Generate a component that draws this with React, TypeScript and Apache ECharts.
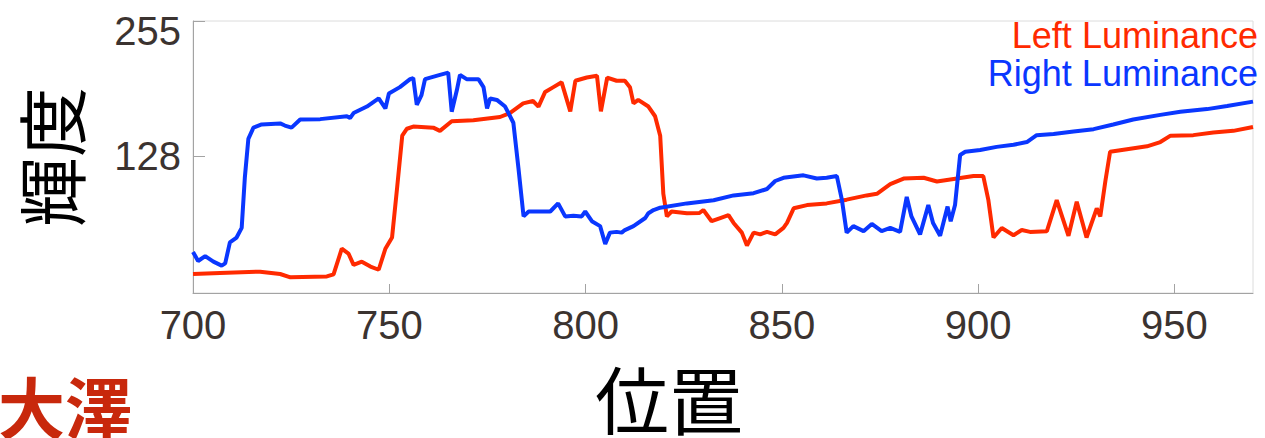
import React, { useEffect, useRef } from "react";
import * as echarts from "echarts";

// Luminance profiles sampled along the scan line (position → 0-255 luminance)
const leftPos = [
  700, 706.9, 717.1, 722.2, 724.8, 734.1, 735.8, 737.9, 739.6, 740.9, 743, 745.2, 747.3, 749, 750.7, 752,
  753.3, 754.5, 756.1, 761.2, 762.9, 765.9, 771.4, 778.2, 780.7, 784.1, 786.6, 788, 789.7, 791.8, 793.9,
  796.1, 797.4, 800.3, 802.9, 803.9, 805.5, 807.9, 810, 811.3, 812.2, 813.4, 816, 817.7, 819, 819.8, 820.7,
  821.9, 825.8, 829, 830, 832.1, 834.3, 836.4, 837.7, 839.8, 841.1, 842.8, 844.5, 846.2, 848.3, 850.4,
  851.3, 853, 856.4, 861.4, 866.5, 871.6, 874.2, 877.6, 881, 886.1, 889.5, 894.6, 898.8, 901.3, 902.6,
  903.9, 906, 909, 911.1, 913.2, 917.5, 920, 923, 925.1, 927.6, 930.2, 931.1, 932.4, 933.6, 937.9, 943,
  946.4, 949, 954.8, 959.9, 965, 970,
];
const leftLum = [
  17.8, 18.8, 20, 17.8, 14.7, 15.5, 17.5, 41.5, 37, 26.4, 29.4, 24.8, 21.8, 41.5, 52, 99,
  147.5, 154, 156, 155, 152, 161, 162, 165, 168.7, 177.8, 180, 174.8, 188.5, 193, 197.5,
  170.3, 199, 202, 203.6, 170.3, 202, 199, 199, 193, 177.8, 181, 174.8, 165.7, 147.5, 93, 71.8,
  76.4, 74.8, 75, 77.8, 67.3, 70.3, 73, 65.7, 56.6, 44.5, 56.6, 55, 57.3, 55, 61,
  65.7, 79.4, 82.4, 84, 87.5, 91.5, 93, 102, 107.3, 108, 104.5, 107.3, 109.6, 109.6, 87,
  52, 61, 54.2, 59, 57.3, 58, 87, 53.6, 85.5, 52, 79.4, 71.8, 105, 132.4, 134.8, 137.5,
  141.5, 147.5, 148, 150.5, 152, 155.7,
];

const rightPos = [
  700, 701.3, 703.1, 705.2, 707.3, 708.2, 709.4, 711.1, 712.4, 713.2, 714.1, 715.4, 717.5, 722.2, 723.4,
  725.1, 727.3, 732.4, 739.2, 740, 740.9, 744.3, 747.3, 749, 749.9, 752.7, 755.3, 756.1, 757, 758.2,
  759.1, 762.9, 765, 765.9, 767.2, 768, 769.7, 772.7, 774, 774.9, 775.7, 777.4, 779.5, 781.6, 782.9,
  784.2, 785.5, 788, 791, 793, 794.8, 796.9, 799, 799.9, 801.6, 803.7, 805, 806.2, 807.9, 809.2, 810,
  812.2, 815.2, 816, 817.3, 819, 825.8, 832.6, 837.7, 842.8, 846.2, 848.3, 850.4, 855.5, 858.9, 861.4,
  864, 865.3, 866.5, 868.2, 870.8, 872.9, 875.4, 877.6, 880.1, 881.8, 883, 885.2, 887.3, 888.5, 890.3,
  892.2, 893, 894.1, 895.4, 896.7, 900.5, 904.7, 909, 912.4, 914.9, 919.2, 924.3, 929.4, 934.4, 939.5,
  946.4, 951.5, 958.3, 963.4, 970,
];
const rightLum = [
  38.5, 30, 34.5, 29.4, 25.7, 27.8, 47.5, 52, 61, 108, 144.5, 155, 158, 159, 157,
  155, 162.7, 163, 165.7, 164, 168.7, 174.8, 182.4, 173, 187, 193, 200.5, 201.5, 176.4, 185.5,
  200.5, 204.5, 206.6, 170, 190, 204.5, 200.5, 200.5, 193, 173, 182.4, 181, 174.8, 159.6, 117,
  71.8, 76.4, 76.4, 76.4, 84, 71.8, 72.4, 71.8, 76.4, 67.3, 62.7, 46, 56.6, 57.3, 56.6, 59,
  62.7, 70.3, 74.8, 77.8, 80, 84, 87, 91.5, 93.6, 97.5, 105, 108, 110.3, 107.3, 108,
  109.6, 87, 56.6, 62.7, 58, 64.8, 58, 61, 57.3, 90, 71.8, 55, 82.4, 65.7, 53.6,
  81, 67.3, 82.4, 129.4, 132.4, 134, 137, 139, 141.5, 148, 149, 151.5, 153.6, 158, 162.7,
  167, 170, 172.4, 175.4, 179.4,
];

const xTicks = [700, 750, 800, 850, 900, 950];
const yTicks = [128, 255];
const seriesNames = ["Left Luminance", "Right Luminance"];

const RED = "#ff2a00";
const BLUE = "#0a37ff";
const TICK_TEXT = "#3b3330";
const AXIS_GRAY = "#a3a3a3";
const LATIN = "'Liberation Sans', Arial, sans-serif";
const CJK = "'Noto Sans CJK JP', 'Noto Sans CJK SC', sans-serif";

const pairs = (xs: number[], ys: number[]) => xs.map((x, i) => [x, ys[i]]);

export default function App() {
  const ref = useRef<HTMLDivElement>(null);

  useEffect(() => {
    if (!ref.current) return;
    const chart = echarts.init(ref.current, undefined, { renderer: "svg" });
    chart.setOption({
      animation: false,
      backgroundColor: "#ffffff",
      grid: {
        left: 193,
        right: 12,
        top: 21,
        bottom: 137,
        show: true,
        borderColor: "#dcdcdc",
        borderWidth: 1,
      },
      legend: {
        data: [
          { name: seriesNames[0], textStyle: { color: RED } },
          { name: seriesNames[1], textStyle: { color: BLUE } },
        ],
        orient: "vertical",
        right: 2,
        top: 17,
        padding: 0,
        itemGap: 2,
        itemWidth: 0,
        itemHeight: 0,
        icon: "none",
        align: "right",
        textStyle: { fontSize: 36, lineHeight: 34, fontFamily: LATIN },
      },
      xAxis: {
        type: "value",
        min: 700,
        max: 970,
        interval: 50,
        name: "位置",
        nameLocation: "middle",
        nameGap: 71,
        nameTextStyle: {
          fontSize: 74,
          lineHeight: 64,
          fontFamily: CJK,
          color: "#000000",
          padding: [0, 108, 0, 0],
        },
        axisLine: { show: true, lineStyle: { color: AXIS_GRAY, width: 1 } },
        axisTick: {
          show: true,
          inside: true,
          length: 9,
          customValues: xTicks,
          lineStyle: { color: AXIS_GRAY },
        },
        axisLabel: {
          customValues: xTicks,
          fontSize: 40,
          fontFamily: LATIN,
          color: TICK_TEXT,
          margin: 12,
        },
        splitLine: { show: false },
      },
      yAxis: {
        type: "value",
        min: 0,
        max: 255,
        name: "輝度",
        nameLocation: "middle",
        nameRotate: 90,
        nameGap: 110,
        nameTextStyle: { fontSize: 70, lineHeight: 68, fontFamily: CJK, color: "#000000" },
        axisLine: { show: true, lineStyle: { color: AXIS_GRAY, width: 1 } },
        axisTick: {
          show: true,
          inside: true,
          length: 12,
          customValues: yTicks,
          lineStyle: { color: AXIS_GRAY },
        },
        axisLabel: {
          customValues: yTicks,
          fontSize: 40,
          fontFamily: LATIN,
          color: TICK_TEXT,
          margin: 12,
          formatter: (v: number) => (v === 255 ? "{top|255}" : String(v)),
          rich: {
            top: {
              fontSize: 40,
              fontFamily: LATIN,
              color: TICK_TEXT,
              padding: [20, 0, 0, 0],
            },
          },
        },
        splitLine: { show: false },
      },
      graphic: [
        {
          type: "text",
          left: -2,
          top: 371,
          style: {
            text: "大澤",
            fontSize: 67,
            lineHeight: 62,
            fontWeight: "bold",
            fontFamily: CJK,
            fill: "#c8280c",
          },
        },
      ],
      series: [
        {
          name: seriesNames[0],
          type: "line",
          data: pairs(leftPos, leftLum),
          showSymbol: false,
          symbol: "none",
          lineStyle: { color: RED, width: 4 },
          itemStyle: { color: RED },
          z: 2,
        },
        {
          name: seriesNames[1],
          type: "line",
          data: pairs(rightPos, rightLum),
          showSymbol: false,
          symbol: "none",
          lineStyle: { color: BLUE, width: 4 },
          itemStyle: { color: BLUE },
          z: 3,
        },
      ],
    });
    return () => chart.dispose();
  }, []);

  return (
    <div
      ref={ref}
      style={{ position: "fixed", left: 0, top: 0, width: 1265, height: 438 }}
    />
  );
}
